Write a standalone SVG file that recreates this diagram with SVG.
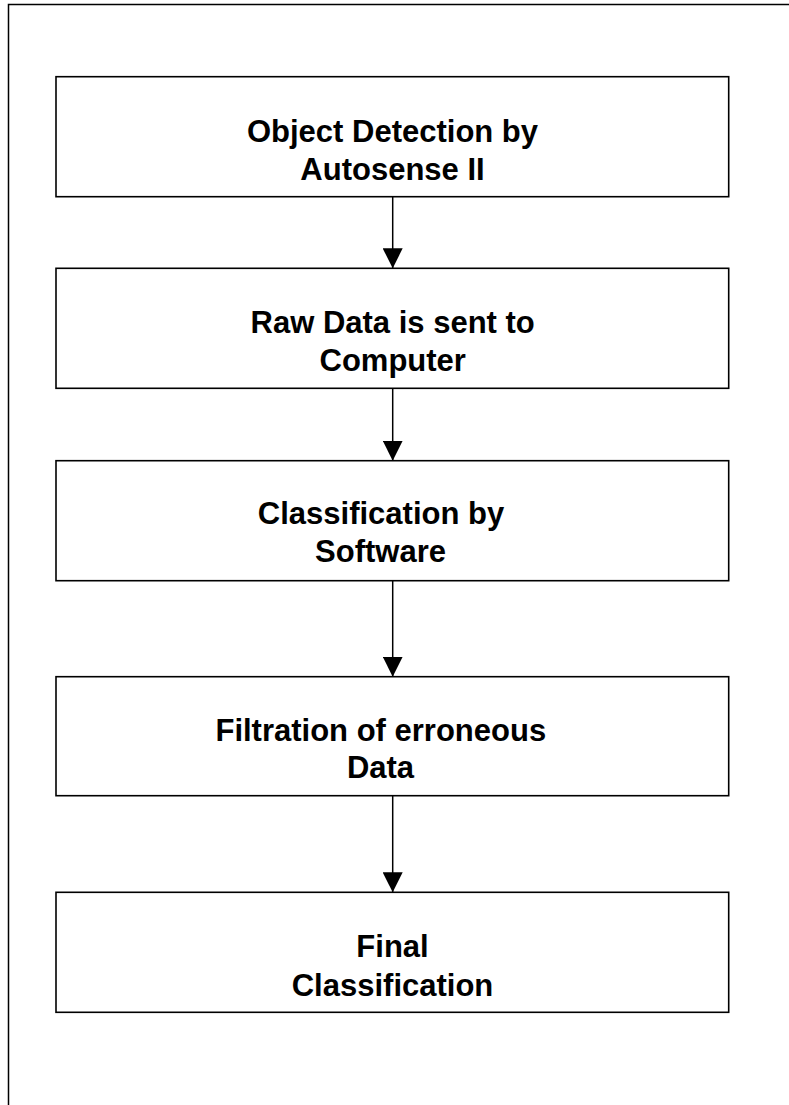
<svg xmlns="http://www.w3.org/2000/svg" width="789" height="1105" viewBox="0 0 789 1105">
  <style>
    .frame { fill: none; stroke: #000; stroke-width: 1.5; }
    .box { fill: #fff; stroke: #000; stroke-width: 1.6; }
    .lbl { font-family: "Liberation Sans", Arial, sans-serif; font-weight: bold; font-size: 31px; fill: #000; text-anchor: middle; }
    .conn { stroke: #000; stroke-width: 1.5; fill: none; marker-end: url(#arrow); }
  </style>
  <defs>
    <marker id="arrow" markerUnits="userSpaceOnUse" markerWidth="20" markerHeight="20" refX="20" refY="10" orient="auto" viewBox="0 0 20 20">
      <path d="M0,0 L20,10 L0,20 z" fill="#000"/>
    </marker>
  </defs>
  <rect x="0" y="0" width="789" height="1105" fill="#fff"/>
  <rect class="frame" x="8.5" y="4.5" width="800" height="1120"/>

  <g id="connectors">
    <line class="conn" x1="392.7" y1="196.7" x2="392.7" y2="268.3"/>
    <line class="conn" x1="392.7" y1="388.3" x2="392.7" y2="460.7"/>
    <line class="conn" x1="392.7" y1="580.7" x2="392.7" y2="676.7"/>
    <line class="conn" x1="392.7" y1="795.7" x2="392.7" y2="892.3"/>
  </g>

  <g id="node1">
    <rect class="box" x="56" y="76.7" width="672.7" height="120"/>
    <text class="lbl" x="392.5" y="141.7">Object Detection by</text>
    <text class="lbl" x="392.5" y="180">Autosense II</text>
  </g>
  <g id="node2">
    <rect class="box" x="56" y="268.3" width="672.7" height="120"/>
    <text class="lbl" x="392.7" y="333.3">Raw Data is sent to</text>
    <text class="lbl" x="392.7" y="370.7">Computer</text>
  </g>
  <g id="node3">
    <rect class="box" x="56" y="460.7" width="672.7" height="120"/>
    <text class="lbl" x="381" y="524">Classification by</text>
    <text class="lbl" x="380.5" y="561.7">Software</text>
  </g>
  <g id="node4">
    <rect class="box" x="56" y="676.7" width="672.7" height="119"/>
    <text class="lbl" x="380.8" y="741">Filtration of erroneous</text>
    <text class="lbl" x="380.5" y="778.3">Data</text>
  </g>
  <g id="node5">
    <rect class="box" x="56" y="892.3" width="672.7" height="120"/>
    <text class="lbl" x="392.5" y="957.3">Final</text>
    <text class="lbl" x="392.5" y="995.7">Classification</text>
  </g>
</svg>
